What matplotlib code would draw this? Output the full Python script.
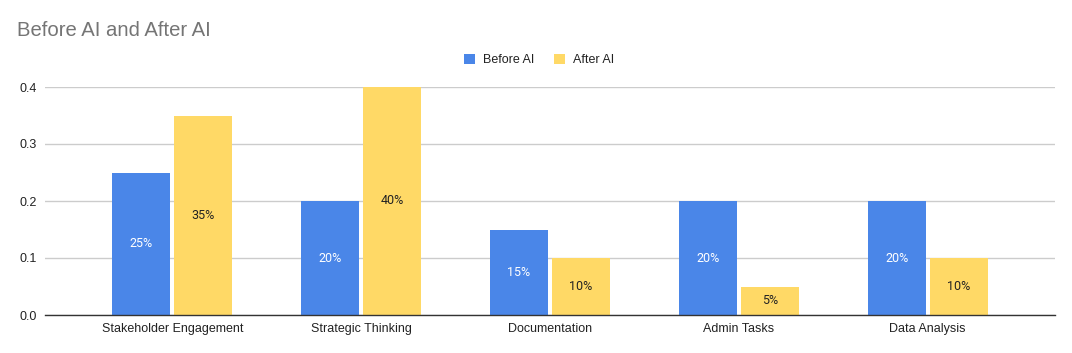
import matplotlib
matplotlib.use("Agg")
import matplotlib.pyplot as plt
import numpy as np

categories = ["Stakeholder Engagement", "Strategic Thinking", "Documentation", "Admin Tasks", "Data Analysis"]
before_ai = [0.25, 0.20, 0.15, 0.20, 0.20]
after_ai = [0.35, 0.40, 0.10, 0.05, 0.10]
series_names = ["Before AI", "After AI"]
yticks = [0.0, 0.1, 0.2, 0.3, 0.4]

plt.rcParams['font.family'] = ['Liberation Sans', 'DejaVu Sans']

fig = plt.figure(figsize=(10.72, 3.53), dpi=100)
ax = fig.add_axes([45/1072, 1-315/353, 1010/1072, 228/353])

x = np.arange(len(categories))
w = 0.307
off = 0.164
blue = "#4a86e8"
yellow = "#ffd966"
b1 = ax.bar(x - off, before_ai, w, color=blue, label=series_names[0], zorder=3)
b2 = ax.bar(x + off, after_ai, w, color=yellow, label=series_names[1], zorder=3)

for rect, v in zip(b1, before_ai):
    ax.text(rect.get_x() + rect.get_width()/2, v/2, f"{int(round(v*100))}%",
            ha="center", va="center", color="white", fontsize=9, family=['Roboto', 'DejaVu Sans'], zorder=4)
for rect, v in zip(b2, after_ai):
    ax.text(rect.get_x() + rect.get_width()/2, v/2, f"{int(round(v*100))}%",
            ha="center", va="center", color="#222222", fontsize=9, family=['Roboto', 'DejaVu Sans'], zorder=4)

ax.set_xlim(-0.675, 4.675)
ax.set_ylim(0, 0.4)
ax.set_yticks(yticks)
ax.set_yticklabels([f"{t:.1f}" for t in yticks])
ax.set_xticks(x)
ax.set_xticklabels(categories)
ax.tick_params(axis="both", length=0, labelsize=9, colors="#222222")
ax.tick_params(axis="y", pad=6)
ax.tick_params(axis="x", pad=6)
ax.grid(axis="y", color="#cccccc", linewidth=1, zorder=0)
for s in ["top", "right", "left"]:
    ax.spines[s].set_visible(False)
ax.spines["bottom"].set_color("#333333")
ax.spines["bottom"].set_linewidth(1)
ax.spines["bottom"].set_zorder(5)

fig.text(17/1072, 1-30/353, "Before AI and After AI", fontsize=14.6, color="#757575", va="center", ha="left")

leg = fig.legend(handles=[b1, b2], labels=series_names, loc="center", bbox_to_anchor=(539/1072, 1-60/353),
                 ncol=2, frameon=False, fontsize=9, handlelength=0.9, handleheight=0.9,
                 columnspacing=1.6, handletextpad=0.6)
for t in leg.get_texts():
    t.set_color("#222222")

fig.savefig("out.png", dpi=100)
